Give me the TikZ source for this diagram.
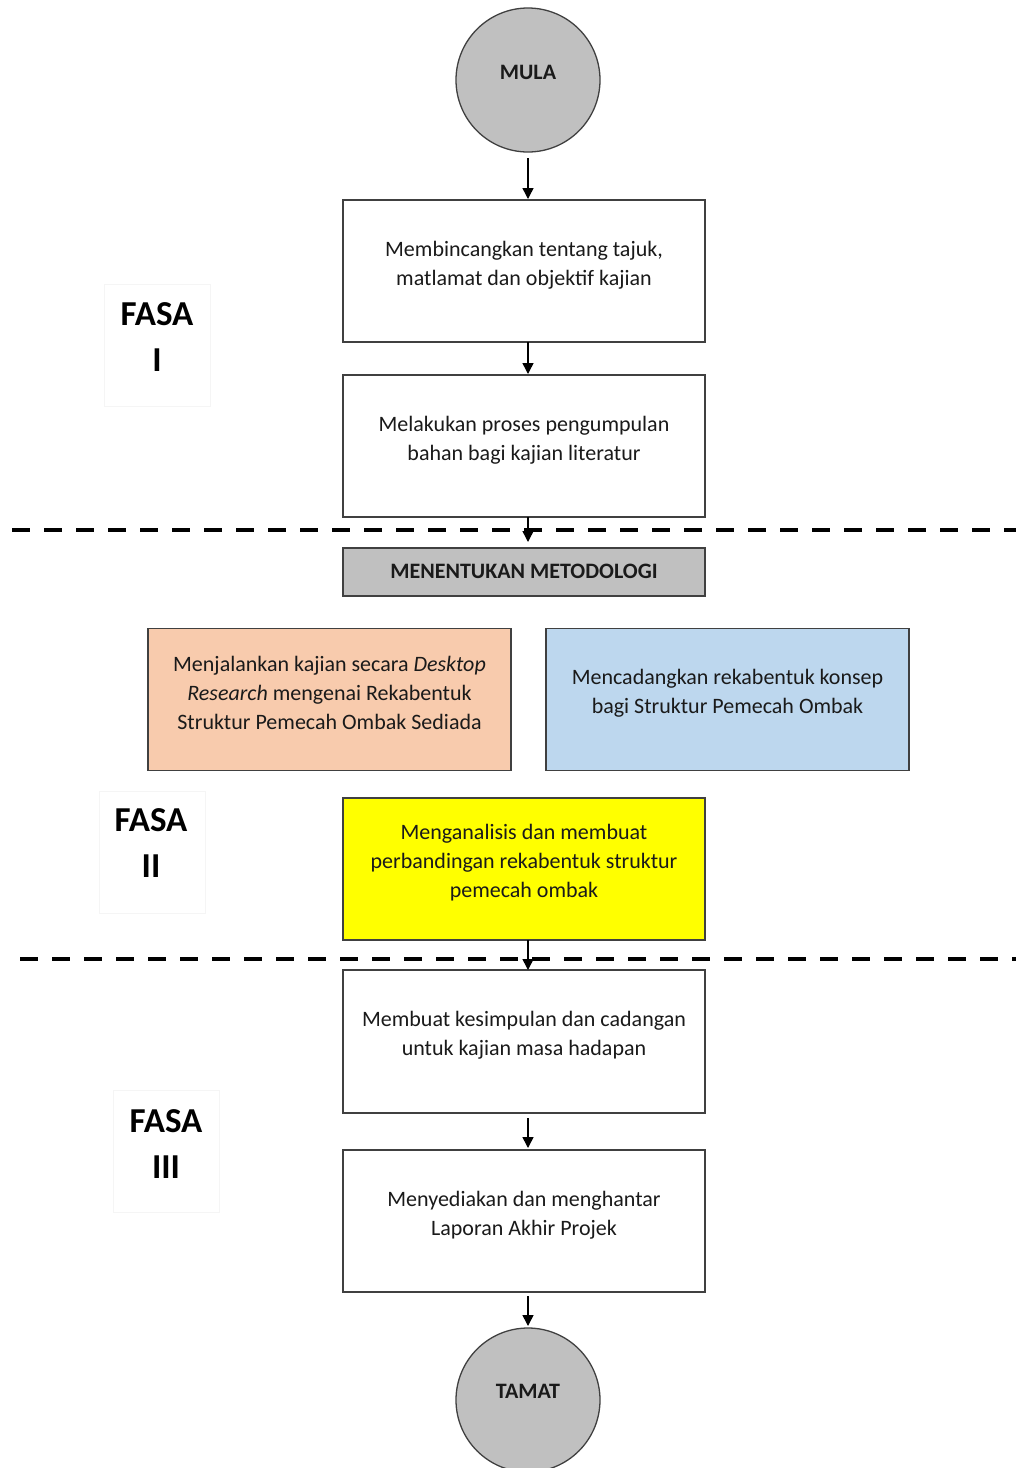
\documentclass[tikz,border=0pt]{standalone}
\usepackage{fontspec}
\setmainfont{Carlito}
\usetikzlibrary{arrows.meta}
\definecolor{boxline}{HTML}{404040}
\definecolor{circfill}{HTML}{C0C0C0}
\definecolor{orangefill}{HTML}{F8CBAD}
\definecolor{bluefill}{HTML}{BDD7EE}
\definecolor{yelfill}{RGB}{255,255,0}
\definecolor{txtcol}{HTML}{1A1A1A}
\begin{document}
\begin{tikzpicture}[x=1pt,y=-1pt,
  stepbox/.style={draw=boxline, line width=1.3pt, minimum width=362pt, minimum height=142pt, inner sep=0pt, outer sep=0pt},
  boxtext/.style={align=center, font=\fontsize{22}{29}\selectfont, text=txtcol, inner sep=0pt},
  endcirc/.style={circle, draw=boxline, line width=1.3pt, fill=circfill, minimum size=144pt, inner sep=0pt, outer sep=0pt},
  circtext/.style={font=\bfseries\fontsize{22}{26}\selectfont, text=txtcol, inner sep=0pt},
  flow/.style={-{Triangle[width=11pt,length=11pt]}, line width=1.5pt, black},
  phase/.style={draw=black!4, line width=0.8pt, minimum width=106pt, minimum height=122pt, inner sep=0pt},
  phasetext/.style={align=center, font=\bfseries\fontsize{35}{46}\selectfont, text=black, inner sep=0pt},
  divider/.style={line width=4pt, dash pattern=on 18pt off 14pt, black}
]
\useasboundingbox[fill=white] (0,0) rectangle (1016,1468);

% dividers
\coordinate (d1a) at (12,530);
\coordinate (d1b) at (1016,530);
\coordinate (d2a) at (20,959);
\coordinate (d2b) at (1016,959);
\draw[divider] (d1a) -- (d1b);
\draw[divider] (d2a) -- (d2b);

% phase labels
\node[phase] (p1) at (157,345) {};
\node[phasetext] (p1t) at (157,337) {FASA\\I};
\node[phase] (p2) at (152,852) {};
\node[phasetext] (p2t) at (151,843) {FASA\\II};
\node[phase] (p3) at (166,1151) {};
\node[phasetext] (p3t) at (166,1144) {FASA\\III};

% start / end
\node[endcirc, label={[circtext, yshift=8pt]center:MULA}] (mula) at (528,80) {};
\node[endcirc, label={[circtext, yshift=9pt]center:TAMAT}] (tamat) at (528,1400) {};

% boxes
\node[stepbox, label={[boxtext, yshift=6pt]center:{Membincangkan tentang tajuk,\\matlamat dan objektif kajian}}] (b1) at (524,271) {};
\node[stepbox, label={[boxtext, yshift=6pt]center:{Melakukan proses pengumpulan\\bahan bagi kajian literatur}}] (b2) at (524,446) {};
\node[stepbox, fill=circfill, minimum height=48pt, label={[circtext, yshift=1pt]center:{MENENTUKAN METODOLOGI}}] (meth) at (524,572) {};
\node[stepbox, fill=orangefill, minimum width=363pt, label={[boxtext, yshift=7pt]center:{Menjalankan kajian secara \textit{Desktop}\\\textit{Research} mengenai Rekabentuk\\Struktur Pemecah Ombak Sediada}}] (orange) at (329.5,699.5) {};
\node[stepbox, fill=bluefill, minimum width=363pt, label={[boxtext, yshift=6pt]center:{Mencadangkan rekabentuk konsep\\bagi Struktur Pemecah Ombak}}] (blue) at (727.5,699.5) {};
\node[stepbox, fill=yelfill, label={[boxtext, yshift=6pt]center:{Menganalisis dan membuat\\perbandingan rekabentuk struktur\\pemecah ombak}}] (yel) at (524,869) {};
\node[stepbox, minimum height=143pt, label={[boxtext, yshift=6pt]center:{Membuat kesimpulan dan cadangan\\untuk kajian masa hadapan}}] (b5) at (524,1041.5) {};
\node[stepbox, label={[boxtext, yshift=6pt]center:{Menyediakan dan menghantar\\Laporan Akhir Projek}}] (b6) at (524,1221) {};

% connectors
\draw[flow, shorten <=6pt, shorten >=1pt] (mula.south) -- (b1.north -| mula.south);
\draw[flow, shorten >=1pt] (b1.south -| mula.south) -- (b2.north -| mula.south);
\draw[flow, shorten >=6pt] (b2.south -| mula.south) -- (meth.north -| mula.south);
\draw[flow] (yel.south -| mula.south) -- (b5.north -| mula.south);
\draw[flow, shorten <=5pt, shorten >=2pt] (b5.south -| mula.south) -- (b6.north -| mula.south);
\draw[flow, shorten <=4pt, shorten >=2pt] (b6.south -| mula.south) -- (tamat.north);
\end{tikzpicture}
\end{document}
